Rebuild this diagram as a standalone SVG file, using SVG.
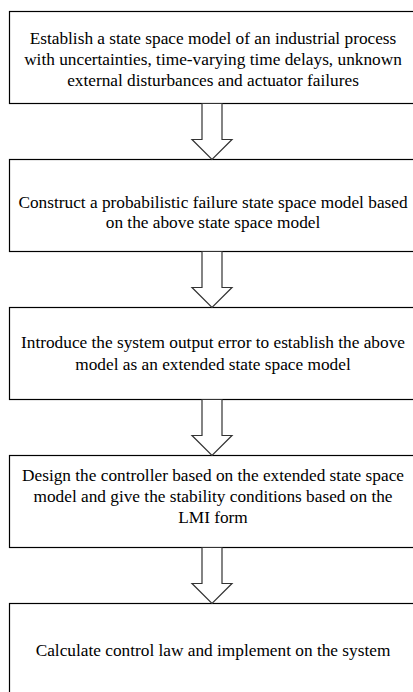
<svg xmlns="http://www.w3.org/2000/svg" width="413" height="692" viewBox="0 0 413 692">
  <style>
    .box { fill: #fff; stroke: #000; stroke-width: 1.2; }
    .txt { font-family: "Liberation Serif", "Times New Roman", serif; font-size: 17.3px; fill: #000; text-anchor: middle; }
    .arrow { fill: #fff; stroke: #333; stroke-width: 1.2; stroke-linejoin: miter; }
  </style>
  <defs>
    <!-- hollow block arrow, tip at origin, pointing down -->
    <path id="blockArrow" d="M-10,-56 L10,-56 L10,-20 L20,-20 L0,0 L-20,-20 L-10,-20 Z"/>
  </defs>
  <rect width="413" height="692" fill="#fff"/>

  <g id="step1">
    <rect class="box" x="9.5" y="11.5" width="408" height="92"/>
    <text class="txt" x="213" y="44">Establish a state space model of an industrial process</text>
    <text class="txt" x="213" y="65">with uncertainties, time-varying time delays, unknown</text>
    <text class="txt" x="213" y="86">external disturbances and actuator failures</text>
  </g>

  <g id="step2">
    <rect class="box" x="9.5" y="159.5" width="408" height="92"/>
    <text class="txt" x="213" y="208">Construct a probabilistic failure state space model based</text>
    <text class="txt" x="213" y="228">on the above state space model</text>
  </g>

  <g id="step3">
    <rect class="box" x="9.5" y="307.5" width="408" height="92"/>
    <text class="txt" x="213" y="348">Introduce the system output error to establish the above</text>
    <text class="txt" x="213" y="370">model as an extended state space model</text>
  </g>

  <g id="step4">
    <rect class="box" x="9.5" y="455.5" width="408" height="92"/>
    <text class="txt" x="213" y="481">Design the controller based on the extended state space</text>
    <text class="txt" x="213" y="502">model and give the stability conditions based on the</text>
    <text class="txt" x="213" y="523">LMI form</text>
  </g>

  <g id="step5">
    <rect class="box" x="9.5" y="603.5" width="408" height="100"/>
    <text class="txt" x="213" y="656">Calculate control law and implement on the system</text>
  </g>

  <g id="connectors">
    <use href="#blockArrow" class="arrow" transform="translate(212,159.5)"/>
    <use href="#blockArrow" class="arrow" transform="translate(212,307.5)"/>
    <use href="#blockArrow" class="arrow" transform="translate(212,455.5)"/>
    <use href="#blockArrow" class="arrow" transform="translate(212,603.5)"/>
  </g>
</svg>
